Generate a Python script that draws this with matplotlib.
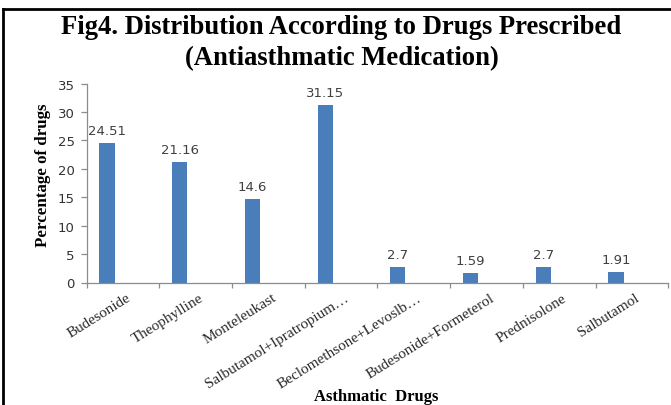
import matplotlib
matplotlib.use("Agg")
import matplotlib.pyplot as plt
from matplotlib.lines import Line2D

drugs = ["Budesonide", "Theophylline", "Monteleukast", "Salbutamol+Ipratropium…",
         "Beclomethsone+Levoslb…", "Budesonide+Formeterol", "Prednisolone", "Salbutamol"]
percent = [24.51, 21.16, 14.6, 31.15, 2.7, 1.59, 2.7, 1.91]
value_labels = ["24.51", "21.16", "14.6", "31.15", "2.7", "1.59", "2.7", "1.91"]
yticks = [0, 5, 10, 15, 20, 25, 30, 35]

W, H = 671, 406
fig = plt.figure(figsize=(W / 100, H / 100), dpi=100)
fig.patch.set_facecolor("white")

left, right = 86.7 / W, 668.3 / W
bottom, top = 1 - 283.5 / H, 1 - 84.5 / H
ax = fig.add_axes([left, bottom, right - left, top - bottom])

# the single series sits in the first slot of each category cluster
slot_shift = -0.22
x = list(range(len(drugs)))
bar_x = [xi + slot_shift for xi in x]
bar_color = "#4a7ebb"
ax.bar(bar_x, percent, width=0.21, color=bar_color, zorder=2)

ax.set_xlim(-0.5, len(drugs) - 0.5)
ax.set_ylim(0, 35)

axis_gray = "#8c8c8c"
for s in ["top", "right"]:
    ax.spines[s].set_visible(False)
for s in ["left", "bottom"]:
    ax.spines[s].set_color(axis_gray)
    ax.spines[s].set_linewidth(0.9)

ax.set_yticks(yticks)
ax.set_yticklabels([str(v) for v in yticks], fontsize=9.5, color="#333333",
                   family="DejaVu Sans")
ax.tick_params(axis="y", length=4.3, color=axis_gray, width=0.9, pad=4.3)

# category boundary ticks on the x axis, labels near category centres
ax.set_xticks([i - 0.5 for i in range(len(drugs) + 1)])
ax.set_xticklabels([])
ax.tick_params(axis="x", which="major", length=3.6, color=axis_gray, width=0.9)
ax.set_xticks([xi + 0.04 for xi in x], minor=True)
ax.set_xticklabels(drugs, minor=True, rotation=32, ha="right", va="top",
                   rotation_mode="anchor", fontsize=11, color="#2a2a2a",
                   family="Liberation Serif")
ax.tick_params(axis="x", which="minor", length=0, pad=6)

for bx, v, lab in zip(bar_x, percent, value_labels):
    ax.text(bx, v + 1.6, lab, ha="center", va="baseline", fontsize=9.5,
            color="#404040", family="DejaVu Sans")

fig.text(43 / W, 1 - 175 / H, "Percentage of drugs", rotation=90,
         ha="center", va="center", family="Liberation Serif",
         fontweight="bold", fontsize=12.2)

fig.text(376 / W, 1 - 401.5 / H, "Asthmatic  Drugs", ha="center", va="baseline",
         family="Liberation Serif", fontweight="bold", fontsize=12)

title_kw = dict(ha="center", va="baseline", family="Liberation Serif",
                fontweight="bold", fontsize=19.2)
fig.text(341.5 / W, 1 - 34 / H, "Fig4. Distribution According to Drugs Prescribed",
         **title_kw)
fig.text(341.5 / W, 1 - 65 / H, "(Antiasthmatic Medication)", **title_kw)

# black frame along the top and left edges
fig.add_artist(Line2D([2.5 / W, 1], [1 - 10 / H, 1 - 10 / H], color="black",
                      lw=2.0, transform=fig.transFigure))
fig.add_artist(Line2D([2.5 / W, 2.5 / W], [0, 1 - 10 / H], color="black",
                      lw=2.0, transform=fig.transFigure))

fig.savefig("out.png", dpi=100)
